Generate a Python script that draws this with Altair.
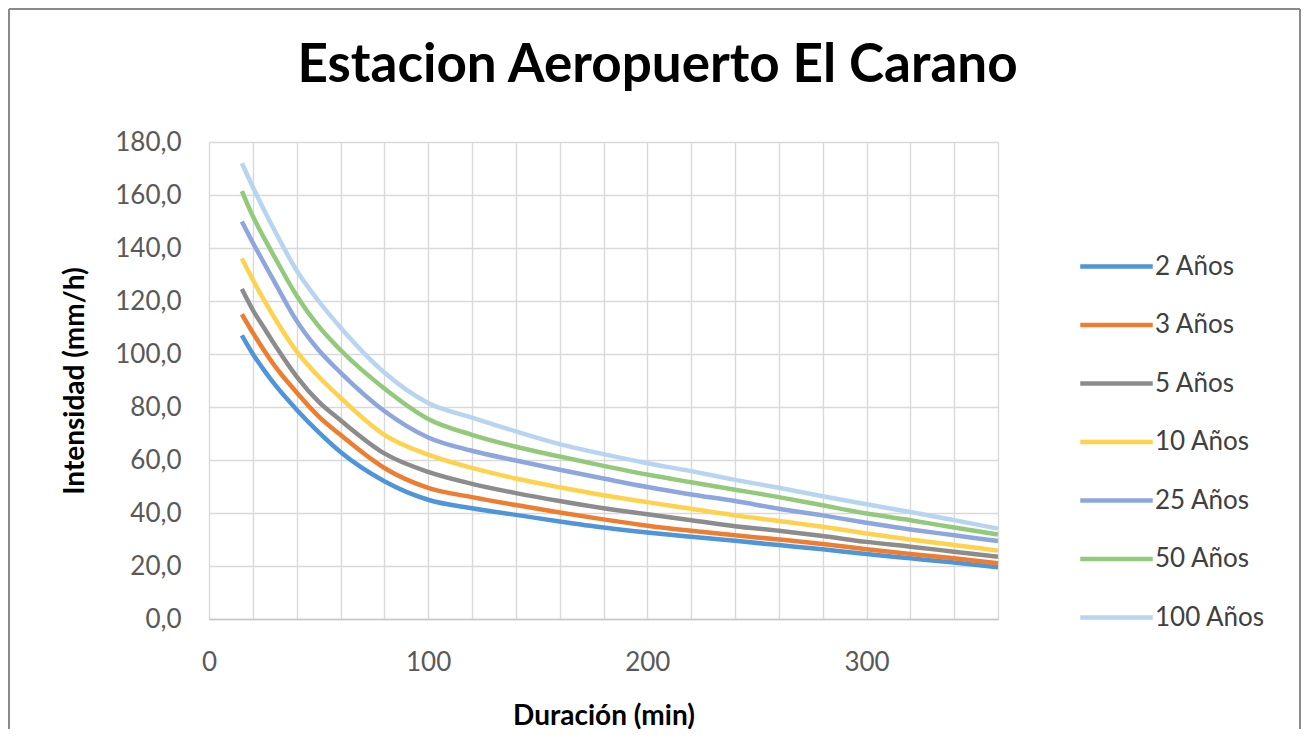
import altair as alt
import pandas as pd

durations = [15, 20, 25, 30, 40, 50, 60, 80, 100, 120, 140, 160, 180, 200,
             220, 240, 260, 280, 300, 320, 340, 360]

series_names = ["2 Años", "3 Años", "5 Años", "10 Años", "25 Años", "50 Años", "100 Años"]

i2 = [107, 100, 94, 88.5, 79, 70.5, 63, 52, 45, 41.8, 39.3, 36.8, 34.5, 32.6, 31, 29.5, 27.9, 26.3, 24.5, 22.9, 21.3, 19.5]
i3 = [115, 108, 101.5, 95.5, 85.5, 76.5, 69.5, 57, 49.5, 46, 43, 40.2, 37.6, 35.2, 33.3, 31.6, 30, 28.3, 26.3, 24.5, 22.9, 21]
i5 = [124.5, 116.6, 110, 103.5, 91.5, 82, 75, 62.5, 55.5, 51, 47.5, 44.5, 41.8, 39.5, 37.3, 35, 33.3, 31.3, 29.1, 27.3, 25.4, 23.5]
i10 = [136, 128, 120.5, 113.5, 101, 91.5, 83.5, 69.5, 62, 57, 53, 49.7, 46.7, 44.1, 41.6, 39.1, 37, 34.8, 32.3, 30, 27.9, 25.8]
i25 = [150, 142, 134.5, 127, 112.5, 101.5, 93, 78.5, 68.5, 63.5, 59.8, 56.3, 53, 49.8, 47, 44.5, 41.6, 39.1, 36.3, 33.8, 31.6, 29.4]
i50 = [161.5, 152, 144, 136.5, 122, 110.5, 101.5, 87, 75.5, 69.5, 65, 61.3, 57.8, 54.5, 51.6, 48.8, 46, 42.9, 39.8, 37.3, 34.5, 31.9]
i100 = [172, 163, 154.5, 146.5, 131.5, 120, 110, 93, 81.5, 76, 70.8, 66, 62.2, 58.8, 55.8, 52.5, 49.5, 46.3, 43.3, 40.4, 37.3, 34.1]

colors = ["#4E95D9", "#ED7D31", "#8C8C8C", "#FFD24D", "#8DA6DE", "#93C97B", "#B7D5F0"]

x_ticks = list(range(0, 361, 20))
y_ticks = list(range(0, 181, 20))

rows = []
for k, (name, vals) in enumerate(zip(series_names, [i2, i3, i5, i10, i25, i50, i100])):
    for d, v in zip(durations, vals):
        rows.append({"Duración": d, "Intensidad": v, "Periodo": name, "k": k})
df = pd.DataFrame(rows)

FONT = "Lato"

lines = alt.Chart(df).mark_line(strokeWidth=4.5, interpolate="monotone").encode(
    x=alt.X("Duración:Q",
            scale=alt.Scale(domain=[0, 360], nice=False),
            axis=alt.Axis(values=x_ticks,
                          labelExpr="datum.value % 100 == 0 ? datum.label : ''",
                          title="Duración (min)",
                          titleFontSize=28, titleFont=FONT, titleFontWeight="bold",
                          titleColor="#000000", titleY=97, titleBaseline="middle",
                          labelFontSize=26, labelFont=FONT, labelColor="#595959",
                          labelPadding=30, ticks=False, domain=True,
                          domainColor="#C8C8C8", domainWidth=1.5,
                          gridColor="#D9D9D9", gridWidth=1.4, labelFlush=False)),
    y=alt.Y("Intensidad:Q",
            scale=alt.Scale(domain=[0, 180], nice=False),
            axis=alt.Axis(values=y_ticks,
                          labelExpr="replace(format(datum.value, '.1f'), '.', ',')",
                          title="Intensidad (mm/h)",
                          titleFontSize=28, titleFont=FONT, titleFontWeight="bold",
                          titleColor="#000000", titleX=-134, titleBaseline="middle",
                          labelFontSize=26, labelFont=FONT, labelColor="#595959",
                          labelPadding=28, ticks=False, domain=False,
                          gridColor="#D9D9D9", gridWidth=1.4)),
    color=alt.Color("Periodo:N",
                    scale=alt.Scale(domain=series_names, range=colors),
                    sort=series_names,
                    legend=alt.Legend(title=None, orient="none", legendX=880, legendY=97,
                                      symbolType="M-1.45,0L1.45,0", symbolSize=2500,
                                      symbolStrokeWidth=4.5, labelFontSize=26,
                                      labelFont=FONT, labelColor="#404040",
                                      labelOffset=11, rowPadding=17.5)),
    order=alt.Order("k:Q"),
)

frame_src = pd.DataFrame({"a": [0]})
frame_left = alt.Chart(frame_src).mark_rule(color="#8A8A8A", strokeWidth=2).encode(
    x=alt.value(-200), y=alt.value(-133), y2=alt.value(620))
frame_top = alt.Chart(frame_src).mark_rule(color="#8A8A8A", strokeWidth=2).encode(
    x=alt.value(-200), x2=alt.value(1091), y=alt.value(-133))
frame_right = alt.Chart(frame_src).mark_rule(color="#8A8A8A", strokeWidth=2).encode(
    x=alt.value(1091), y=alt.value(-133), y2=alt.value(620))

chart = alt.layer(lines, frame_left, frame_top, frame_right).properties(
    width=789, height=477,
    title=alt.TitleParams("Estacion Aeropuerto El Carano", font=FONT, fontSize=53,
                          fontWeight="bold", color="#000000", anchor="middle",
                          dx=54, dy=127, offset=0, baseline="alphabetic"),
    padding={"left": 201, "top": 134, "right": 303, "bottom": 110},
    autosize=alt.AutoSizeParams(type="none"),
).configure_view(strokeWidth=0).configure(background="#FFFFFF")

chart.save("out.html", embed_options={"renderer": "svg", "actions": False})
